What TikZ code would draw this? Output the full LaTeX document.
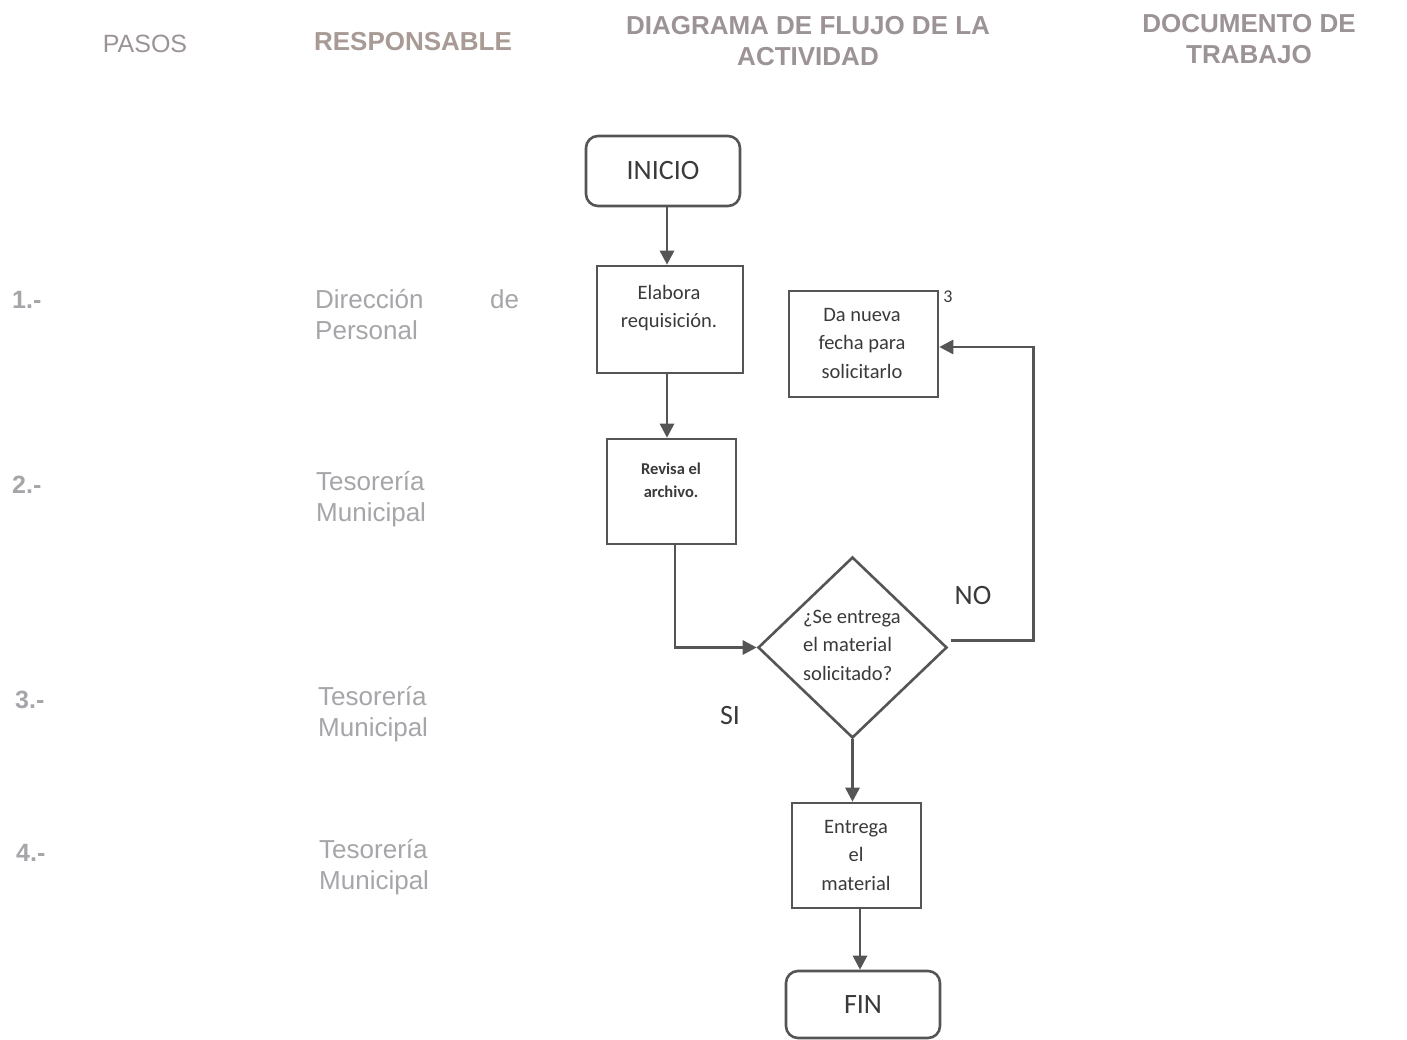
\documentclass[tikz,border=0pt]{standalone}
\usepackage{fontspec}
\setmainfont{Liberation Sans}
\newfontfamily\calfont{Carlito}
\usetikzlibrary{arrows.meta,shapes.geometric}
\definecolor{hdr}{HTML}{9C9396}
\definecolor{resp}{HTML}{A89A94}
\definecolor{side}{HTML}{A6A6AA}
\definecolor{ln}{HTML}{555555}
\definecolor{tx}{HTML}{3A3A3A}
\begin{document}
\begin{tikzpicture}[x=1pt,y=-1pt,
  flow/.style={draw=ln, line width=2.6pt, fill=white},
  proc/.style={flow, rectangle, inner sep=0pt},
  term/.style={flow, rectangle, rounded corners=12pt, inner sep=0pt, text=tx, font=\calfont\fontsize{28}{30}\selectfont},
  dec/.style={flow, diamond, inner sep=0pt, aspect=1},
  conn/.style={draw=ln, line width=2.8pt, -{Triangle[length=14pt,width=14pt]}},
  btxt/.style={text=tx, align=center, inner sep=0pt, font=\calfont\fontsize{20.5}{28.5}\selectfont},
  small/.style={text=tx, align=center, inner sep=0pt, font=\calfont\bfseries\fontsize{16.5}{23}\selectfont},
  lbl/.style={text=tx, inner sep=0pt, font=\calfont\fontsize{28}{30}\selectfont},
  hd/.style={text=hdr, align=center, inner sep=0pt, font=\bfseries\fontsize{26}{31}\selectfont},
  num/.style={text=side, inner sep=0pt, anchor=west, font=\bfseries\fontsize{25}{31}\selectfont},
  who/.style={text=side, inner sep=0pt, anchor=west, align=left, font=\fontsize{26}{31}\selectfont}
]
\useasboundingbox (0,0) rectangle (1407,1040);
\fill[white] (0,0) rectangle (1407,1040);

% headers
\node[hd, font=\fontsize{25}{31}\selectfont] (hpasos) at (145,44) {PASOS};
\node[hd, text=resp] (hresp) at (413,42) {RESPONSABLE};
\node[hd] (hdiag) at (808,41) {DIAGRAMA DE FLUJO DE LA\\ACTIVIDAD};
\node[hd] (hdoc) at (1249,39) {DOCUMENTO DE\\TRABAJO};

% steps
\node[num] (n1) at (12,300) {1.-};
\node[num] (n2) at (12,485) {2.-};
\node[num] (n3) at (15,700) {3.-};
\node[num] (n4) at (16,853) {4.-};

\node[who, text width=204pt] (r1) at (315,315) {Dirección\hfill de\\Personal};
\node[who] (r2) at (316,499) {Tesorería\\Municipal};
\node[who] (r3) at (318,714) {Tesorería\\Municipal};
\node[who] (r4) at (319,867) {Tesorería\\Municipal};

% flow shapes
\node[term, minimum width=154pt, minimum height=70pt] (inicio) at (663,171) {INICIO};
\node[proc, minimum width=146pt, minimum height=107pt] (elab) at (670,319.5) {};
\node[proc, minimum width=129pt, minimum height=105pt] (revisa) at (671.5,491.5) {};
\node[proc, minimum width=149pt, minimum height=106pt] (nueva) at (863.5,344) {};
\node[dec, minimum width=189pt, minimum height=181pt] (dia) at (852.5,647.5) {};
\node[proc, minimum width=129pt, minimum height=105pt] (entrega) at (856.5,855.5) {};
\node[term, minimum width=154pt, minimum height=67pt] (fin) at (863,1004.5) {FIN};

% texts inside
\node[btxt] (elabt) at (669,308) {Elabora\\requisición.};
\node[small] (revisat) at (671,480) {Revisa el\\archivo.};
\node[btxt] (nuevat) at (862,343) {Da nueva\\fecha para\\solicitarlo};
\node[btxt, align=left, anchor=west] (diat) at (803,645) {¿Se entrega\\el material\\solicitado?};
\node[btxt] (entregat) at (856,855) {Entrega\\el\\material};
\node[text=tx, inner sep=0pt, font=\calfont\fontsize{18}{20}\selectfont] (tres) at (948,297) {3};
\node[lbl] (no) at (973,596) {NO};
\node[lbl] (si) at (730,716) {SI};

% connectors
\draw[conn] ([xshift=4pt]inicio.south) -- ([xshift=-3pt]elab.north);
\draw[conn] ([xshift=-3pt]elab.south) -- ([xshift=-4.5pt]revisa.north);
\draw[conn] ([xshift=3.5pt]revisa.south) |- (dia.west);
\draw[conn] ([xshift=3pt,yshift=7pt]dia.east) -- ++(82,0) |- ([yshift=-3pt]nueva.east);
\draw[conn] (dia.south) -- (dia.south |- entrega.north);
\draw[conn] ([xshift=3.5pt]entrega.south) -- ([xshift=-3pt]fin.north);
\end{tikzpicture}
\end{document}
